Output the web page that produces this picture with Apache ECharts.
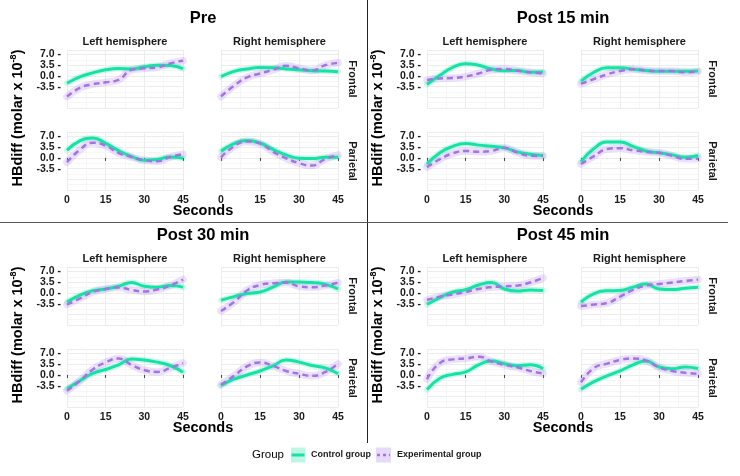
<!DOCTYPE html>
<html>
<head>
<meta charset="utf-8">
<script src="https://cdn.jsdelivr.net/npm/echarts@6/dist/echarts.min.js"></script>
<style>
html, body { margin: 0; padding: 0; background: #fff; }
#chart { width: 740px; height: 476px; }
</style>
</head>
<body>
<div id="chart"></div>
<script>
// time axis (seconds)
var seconds = [0, 5, 10, 15, 20, 25, 30, 35, 40, 45];

// Pre
var preLeftFrontalCtrl   = [-2.4, -0.3, 1.0, 2.0, 2.4, 2.3, 3.0, 3.5, 3.4, 2.4];
var preLeftFrontalExp    = [-6.8, -3.9, -2.7, -2.1, -1.3, 2.0, 2.5, 2.8, 4.1, 5.0];
var preRightFrontalCtrl  = [-0.2, 1.5, 2.3, 2.8, 2.7, 2.3, 2.0, 1.7, 1.6, 1.4];
var preRightFrontalExp   = [-6.7, -3.2, -0.5, 0.8, 2.0, 3.3, 2.5, 1.8, 3.5, 4.3];
var preLeftParietalCtrl  = [2.5, 5.6, 6.5, 4.8, 2.4, 0.5, -0.75, -0.5, 0.3, -0.1];
var preLeftParietalExp   = [-1.4, 2.7, 5.0, 4.0, 1.6, 0.3, -0.75, -1.1, 0.3, 1.2];
var preRightParietalCtrl = [2.2, 4.7, 5.7, 4.9, 2.8, 1.0, -0.1, -0.2, 0.2, 0.2];
var preRightParietalExp  = [0.2, 3.8, 5.4, 4.7, 2.0, -0.1, -1.7, -2.5, -0.4, 1.0];

// Post 15 min
var p15LeftFrontalCtrl   = [-2.8, 0.2, 2.8, 4.0, 3.5, 2.3, 1.7, 1.8, 1.2, 1.3];
var p15LeftFrontalExp    = [-1.3, -0.8, -0.7, -0.2, 0.8, 2.0, 2.3, 1.7, 1.2, 0.8];
var p15RightFrontalCtrl  = [-1.7, 1.2, 2.7, 2.7, 2.2, 1.8, 1.5, 1.5, 1.5, 1.6];
var p15RightFrontalExp   = [-2.6, -1.0, 0.5, 1.6, 2.2, 1.8, 1.6, 1.6, 1.2, 1.5];
var p15LeftParietalCtrl  = [-2.0, 1.7, 3.8, 4.7, 4.2, 3.8, 3.3, 2.0, 1.2, 0.8];
var p15LeftParietalExp   = [-3.0, -0.4, 1.5, 2.3, 2.0, 2.3, 3.3, 1.8, 0.7, 0.6];
var p15RightParietalCtrl = [-1.2, 3.1, 5.2, 5.2, 3.8, 2.3, 1.7, 1.0, 0.2, 0.8];
var p15RightParietalExp  = [-2.0, 0.6, 2.9, 3.2, 2.5, 2.0, 1.7, 0.7, -0.3, -0.2];

// Post 30 min
var p30LeftFrontalCtrl   = [-3.0, -0.7, 0.7, 1.3, 2.2, 3.4, 2.2, 1.9, 2.4, 1.9];
var p30LeftFrontalExp    = [-3.8, -1.8, 0.3, 1.3, 1.8, 1.0, 0.5, 1.1, 2.4, 4.4];
var p30RightFrontalCtrl  = [-2.4, -1.2, -0.2, 0.3, 1.9, 3.6, 3.6, 3.4, 2.9, 1.3];
var p30RightFrontalExp   = [-5.9, -3.0, 0.8, 2.6, 3.2, 3.4, 2.2, 1.9, 2.4, 3.4];
var p30LeftParietalCtrl  = [-4.5, -1.9, 0.5, 1.8, 3.3, 5.2, 4.9, 4.2, 3.1, 0.9];
var p30LeftParietalExp   = [-5.2, -1.9, 1.8, 4.1, 5.4, 3.3, 1.6, 1.0, 2.3, 3.9];
var p30RightParietalCtrl = [-3.4, -1.4, 0.0, 1.3, 3.0, 4.9, 4.2, 3.1, 2.3, 0.4];
var p30RightParietalExp  = [-3.2, -0.3, 2.8, 4.1, 3.0, 1.3, 0.4, -0.3, 0.9, 3.6];

// Post 45 min
var p45LeftFrontalCtrl   = [-3.8, -1.5, 0.3, 1.1, 2.6, 3.4, 1.3, 0.6, 1.0, 0.8];
var p45LeftFrontalExp    = [-2.3, -1.2, -0.5, 0.3, 1.3, 1.9, 2.2, 2.4, 3.4, 4.9];
var p45RightFrontalCtrl  = [-3.0, -0.2, 0.7, 0.8, 1.9, 2.9, 1.3, 1.1, 1.5, 1.9];
var p45RightFrontalExp   = [-4.3, -3.8, -3.3, -1.2, 1.0, 2.4, 2.9, 3.4, 3.9, 4.4];
var p45LeftParietalCtrl  = [-4.8, -1.1, 0.2, 1.0, 3.3, 4.6, 3.7, 3.0, 3.3, 2.0];
var p45LeftParietalExp   = [-1.4, 3.9, 5.1, 5.4, 6.0, 4.4, 3.3, 2.5, 1.3, 0.5];
var p45RightParietalCtrl = [-4.7, -2.2, -0.3, 1.3, 3.3, 4.6, 2.6, 2.0, 2.6, 2.1];
var p45RightParietalExp  = [-2.4, 2.3, 3.7, 4.9, 5.4, 4.7, 2.5, 1.3, 0.7, 0.4];

var panelTitles = ['Pre', 'Post 15 min', 'Post 30 min', 'Post 45 min'];
var hemispheres = ['Left hemisphere', 'Right hemisphere'];
var regions = ['Frontal', 'Parietal'];
var groups = ['Control group', 'Experimental group'];
var yLabelMin = -3.5;

// [panel][region][hemisphere] -> [ctrl, exp]
var panelData = [
    [[[preLeftFrontalCtrl, preLeftFrontalExp], [preRightFrontalCtrl, preRightFrontalExp]],
     [[preLeftParietalCtrl, preLeftParietalExp], [preRightParietalCtrl, preRightParietalExp]]],
    [[[p15LeftFrontalCtrl, p15LeftFrontalExp], [p15RightFrontalCtrl, p15RightFrontalExp]],
     [[p15LeftParietalCtrl, p15LeftParietalExp], [p15RightParietalCtrl, p15RightParietalExp]]],
    [[[p30LeftFrontalCtrl, p30LeftFrontalExp], [p30RightFrontalCtrl, p30RightFrontalExp]],
     [[p30LeftParietalCtrl, p30LeftParietalExp], [p30RightParietalCtrl, p30RightParietalExp]]],
    [[[p45LeftFrontalCtrl, p45LeftFrontalExp], [p45RightFrontalCtrl, p45RightFrontalExp]],
     [[p45LeftParietalCtrl, p45LeftParietalExp], [p45RightParietalCtrl, p45RightParietalExp]]]
];

var FONT = 'Liberation Sans, Arial, sans-serif';
var TXT = '#1a1a1a';
var GREEN = '#14e3a5';
var PURPLE = '#a374e6';
var GREEN_FILL = 'rgba(40,225,170,0.22)';
var PURPLE_FILL = 'rgba(175,130,235,0.24)';

var panelOffsets = [[0, 0], [360, 0], [0, 217], [360, 217]];
var colLeft = [67, 221];
var colWidth = [116, 117];
var rowTop = [50, 132];
var rowHeight = 58;

function pairs(arr) {
    return seconds.map(function (s, i) { return [s, arr[i]]; });
}

var grids = [], xAxes = [], yAxes = [], series = [], graphic = [];

for (var p = 0; p < 4; p++) {
    var ox = panelOffsets[p][0], oy = panelOffsets[p][1];
    for (var r = 0; r < 2; r++) {
        for (var h = 0; h < 2; h++) {
            var gi = grids.length;
            grids.push({ left: ox + colLeft[h], top: oy + rowTop[r], width: colWidth[h], height: rowHeight });
            xAxes.push({
                gridIndex: gi, type: 'value', min: 0, max: 45, interval: 15,
                axisLine: { show: false },
                splitLine: { show: true, lineStyle: { color: '#ececec', width: 1 } },
                minorTick: { show: false, splitNumber: 2 },
                minorSplitLine: { show: true, lineStyle: { color: '#f4f4f4', width: 0.8 } },
                axisTick: { show: r === 1, length: 3, lineStyle: { color: '#444' } },
                axisLabel: { show: r === 1, margin: 5,
                    fontFamily: FONT, fontWeight: 'bold', fontSize: 10.5, color: TXT }
            });
            yAxes.push({
                gridIndex: gi, type: 'value', min: -10.5, max: 8.5, interval: 3.5,
                axisLine: { show: false },
                splitLine: { show: true, lineStyle: { color: '#ececec', width: 1 } },
                minorTick: { show: false, splitNumber: 2 },
                minorSplitLine: { show: true, lineStyle: { color: '#f4f4f4', width: 0.8 } },
                axisTick: { show: false },
                axisLabel: { show: h === 0, margin: 6, showMinLabel: false,
                    fontFamily: FONT, fontWeight: 'bold', fontSize: 10.5, color: TXT,
                    formatter: function (v) { return v < yLabelMin - 0.01 ? '' : v.toFixed(1) + ' -'; } }
            });

            var ctrl = panelData[p][r][h][0];
            var exp = panelData[p][r][h][1];

            // confidence ribbons, drawn as wide translucent strokes
            series.push({
                type: 'line', xAxisIndex: gi, yAxisIndex: gi, smooth: 0.5, symbol: 'none', silent: true, z: 1,
                lineStyle: { color: GREEN_FILL, width: 6, cap: 'round' }, data: pairs(ctrl)
            });
            series.push({
                type: 'line', xAxisIndex: gi, yAxisIndex: gi, smooth: 0.5, symbol: 'none', silent: true, z: 1,
                lineStyle: { color: PURPLE_FILL, width: 7.5, cap: 'round' }, data: pairs(exp)
            });

            series.push({
                name: groups[0], type: 'line', xAxisIndex: gi, yAxisIndex: gi, smooth: 0.5,
                symbol: 'none', z: 3, lineStyle: { color: GREEN, width: 3 },
                data: pairs(ctrl)
            });
            series.push({
                name: groups[1], type: 'line', xAxisIndex: gi, yAxisIndex: gi, smooth: 0.5,
                symbol: 'none', z: 4, lineStyle: { color: PURPLE, width: 2.5, type: [6, 4] },
                data: pairs(exp)
            });
        }
        // region strip on the right
        graphic.push({
            type: 'text', x: ox + 352, y: oy + rowTop[r] + rowHeight / 2, rotation: -Math.PI / 2,
            style: { text: regions[r], font: 'bold 11px ' + FONT, fill: TXT, align: 'center', verticalAlign: 'middle' }
        });
    }
    // hemisphere strips
    for (var k = 0; k < 2; k++) {
        graphic.push({
            type: 'text', x: ox + colLeft[k] + colWidth[k] / 2, y: oy + 42,
            style: { text: hemispheres[k], font: 'bold 11px ' + FONT, fill: TXT, align: 'center', verticalAlign: 'middle' }
        });
    }
    // panel title
    graphic.push({
        type: 'text', x: ox + 203, y: oy + 18,
        style: { text: panelTitles[p], font: 'bold 16.5px ' + FONT, fill: '#000', align: 'center', verticalAlign: 'middle' }
    });
    // x title
    graphic.push({
        type: 'text', x: ox + 203, y: oy + 211,
        style: { text: 'Seconds', font: 'bold 14.5px ' + FONT, fill: '#000', align: 'center', verticalAlign: 'middle' }
    });
    // y title
    graphic.push({
        type: 'text', x: ox + 18, y: oy + 118, rotation: Math.PI / 2,
        style: {
            text: '{a|HBdiff (molar x 10}{b|-8}{a|)}', align: 'center', verticalAlign: 'middle',
            rich: {
                a: { font: 'bold 14.5px ' + FONT, fill: '#000', lineHeight: 18 },
                b: { font: 'bold 9px ' + FONT, fill: '#000', verticalAlign: 'top', lineHeight: 18 }
            }
        }
    });
}

// dividers
graphic.push({ type: 'line', shape: { x1: 367.5, y1: 0, x2: 367.5, y2: 443 }, style: { stroke: '#222', lineWidth: 1 } });
graphic.push({ type: 'line', shape: { x1: 0, y1: 222.5, x2: 728, y2: 222.5 }, style: { stroke: '#555', lineWidth: 1 } });

// legend
graphic.push({ type: 'text', x: 252, y: 455, style: { text: 'Group', font: '11.5px ' + FONT, fill: '#000', verticalAlign: 'middle' } });
graphic.push({ type: 'rect', shape: { x: 291, y: 447.5, width: 14.5, height: 15 }, style: { fill: 'rgba(40,225,170,0.3)' } });
graphic.push({ type: 'line', shape: { x1: 291.5, y1: 455, x2: 304.5, y2: 455 }, style: { stroke: GREEN, lineWidth: 3 } });
graphic.push({ type: 'text', x: 311, y: 455, style: { text: groups[0], font: 'bold 9px ' + FONT, fill: TXT, verticalAlign: 'middle' } });
graphic.push({ type: 'rect', shape: { x: 376, y: 447.5, width: 15, height: 15 }, style: { fill: 'rgba(175,130,235,0.3)' } });
graphic.push({ type: 'line', shape: { x1: 377, y1: 455, x2: 390, y2: 455 }, style: { stroke: PURPLE, lineWidth: 2.5, lineDash: [3, 3] } });
graphic.push({ type: 'text', x: 397, y: 455, style: { text: groups[1], font: 'bold 9px ' + FONT, fill: TXT, verticalAlign: 'middle' } });

var chart = echarts.init(document.getElementById('chart'));
chart.setOption({
    animation: false,
    grid: grids,
    xAxis: xAxes,
    yAxis: yAxes,
    series: series,
    graphic: graphic
});
</script>
</body>
</html>
